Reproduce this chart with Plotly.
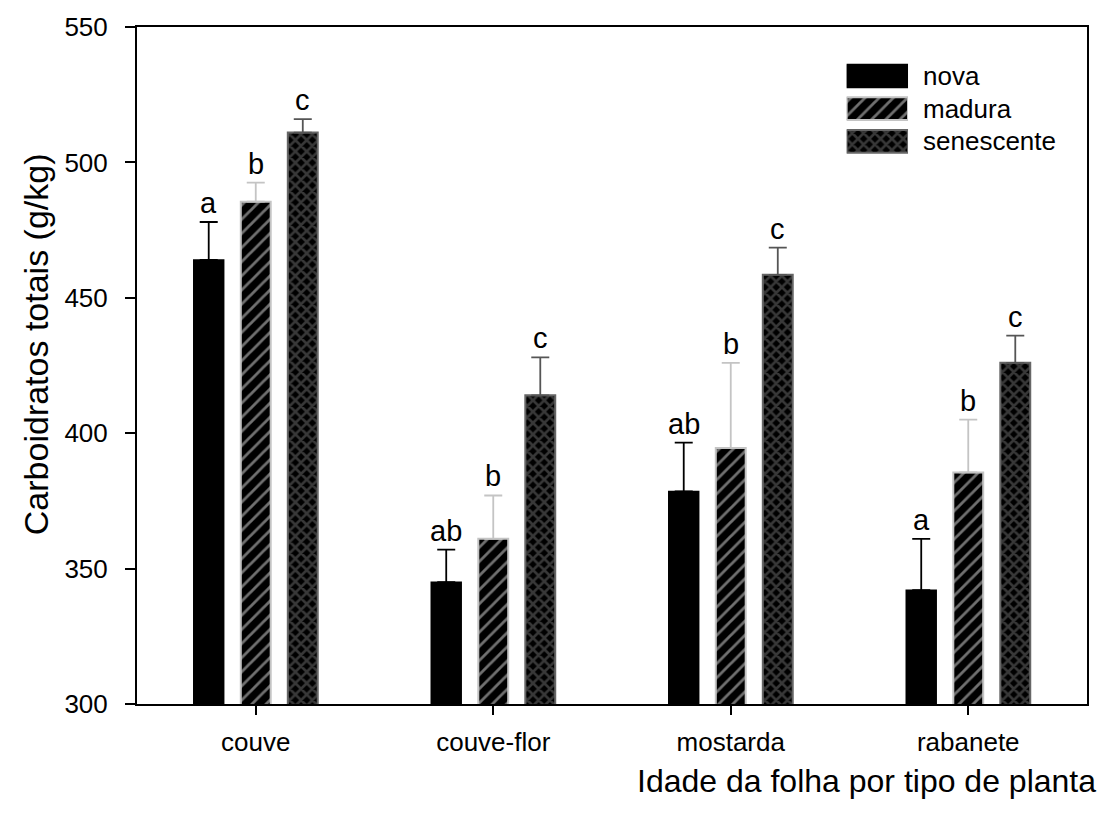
import plotly.graph_objects as go
import numpy as np

categories = ["couve", "couve-flor", "mostarda", "rabanete"]
series_names = ["nova", "madura", "senescente"]
nova = [464, 345, 378.5, 342]
madura = [485.5, 361, 394.5, 385.5]
senescente = [511, 414, 458.5, 426]
nova_err = [14, 12, 18, 19]
madura_err = [7, 16, 31.5, 19.5]
senescente_err = [5, 14, 10, 10]
nova_letters = ["a", "ab", "ab", "a"]
madura_letters = ["b", "b", "b", "b"]
senescente_letters = ["c", "c", "c", "c"]

FONT = "Liberation Sans, Arial, sans-serif"

styles = [
    dict(color="black", line=dict(color="black", width=1.5),
         pattern=None, err="black"),
    dict(color="black", line=dict(color="#c4c4c4", width=2),
         pattern=dict(shape="/", fgcolor="#e0e0e0", bgcolor="black", size=10, solidity=0.28, fillmode="overlay"),
         err="#c4c4c4"),
    dict(color="black", line=dict(color="#666666", width=2),
         pattern=dict(shape="x", fgcolor="#707070", bgcolor="black", size=8, solidity=0.55, fillmode="overlay"),
         err="#555555"),
]

values = [nova, madura, senescente]
errs = [nova_err, madura_err, senescente_err]
letters = [nova_letters, madura_letters, senescente_letters]
offsets = [-0.198, 0.0, 0.198]
bar_w = 0.126

fig = go.Figure()
annotations = []
base_x = np.arange(len(categories))
for k in range(3):
    st = styles[k]
    marker = dict(color=st["color"], line=st["line"])
    if st["pattern"] is not None:
        marker["pattern"] = st["pattern"]
    xs = base_x + offsets[k]
    fig.add_trace(go.Bar(
        x=xs, y=values[k], width=bar_w, name=series_names[k],
        marker=marker, showlegend=False,
        error_y=dict(type="data", array=errs[k], arrayminus=[0]*4, symmetric=False,
                     color=st["err"], thickness=1.8, width=9),
    ))
    for i in range(len(categories)):
        annotations.append(dict(
            x=xs[i], y=values[k][i] + errs[k][i], xref="x", yref="y",
            text=letters[k][i], showarrow=False, yanchor="bottom", yshift=1,
            font=dict(family=FONT, size=29, color="black")))

# legend built on an auxiliary axis
leg_cats = ["senescente", "madura", "nova"]
for k in range(3):
    st = styles[k]
    marker = dict(color=st["color"], line=st["line"])
    if st["pattern"] is not None:
        marker["pattern"] = st["pattern"]
    fig.add_trace(go.Bar(
        y=[series_names[k]], x=[1], orientation="h", width=0.7,
        marker=marker, showlegend=False, xaxis="x2", yaxis="y2", hoverinfo="skip"))
    annotations.append(dict(
        x=0.825, y=series_names[k], xref="paper", yref="y2", text=series_names[k],
        showarrow=False, xanchor="left", yanchor="middle",
        font=dict(family=FONT, size=26, color="black")))

annotations.append(dict(
    x=1.0116, y=-0.114, xref="paper", yref="paper", text="Idade da folha por tipo de planta",
    showarrow=False, xanchor="right", yanchor="middle",
    font=dict(family=FONT, size=32, color="black")))
annotations.append(dict(
    x=-0.107, y=0.532, xref="paper", yref="paper", text="Carboidratos totais (g/kg)",
    showarrow=False, xanchor="center", yanchor="middle", textangle=-90,
    font=dict(family=FONT, size=34, color="black")))

fig.update_layout(
    width=1109, height=813,
    margin=dict(l=137, r=22, t=20, b=109),
    paper_bgcolor="white", plot_bgcolor="white",
    barmode="overlay",
    annotations=annotations,
    font=dict(family=FONT, color="black"),
    xaxis=dict(
        range=[-0.5, 3.5], tickvals=list(base_x), ticktext=categories,
        showgrid=False, zeroline=False, showline=True, linecolor="black", linewidth=2,
        mirror=True, ticks="outside", ticklen=9, tickwidth=2, tickcolor="black",
        tickfont=dict(family=FONT, size=26, color="black"), ticklabelstandoff=5),
    yaxis=dict(
        range=[300, 550], tickvals=[300, 350, 400, 450, 500, 550],
        showgrid=False, zeroline=False, showline=True, linecolor="black", linewidth=2,
        mirror=True, ticks="outside", ticklen=10, tickwidth=2, tickcolor="black",
        tickfont=dict(family=FONT, size=26, color="black"), ticklabelstandoff=12),
    xaxis2=dict(domain=[0.747, 0.8116], range=[0, 1], visible=False, anchor="y2",
                fixedrange=True),
    yaxis2=dict(domain=[0.807, 0.9518], categoryorder="array", categoryarray=leg_cats,
                range=[-0.5, 2.5], visible=False, anchor="x2", fixedrange=True),
)

fig.write_html("out.html", config={"displayModeBar": False},
               post_script="document.body.style.margin='0';document.body.style.overflow='hidden';")
